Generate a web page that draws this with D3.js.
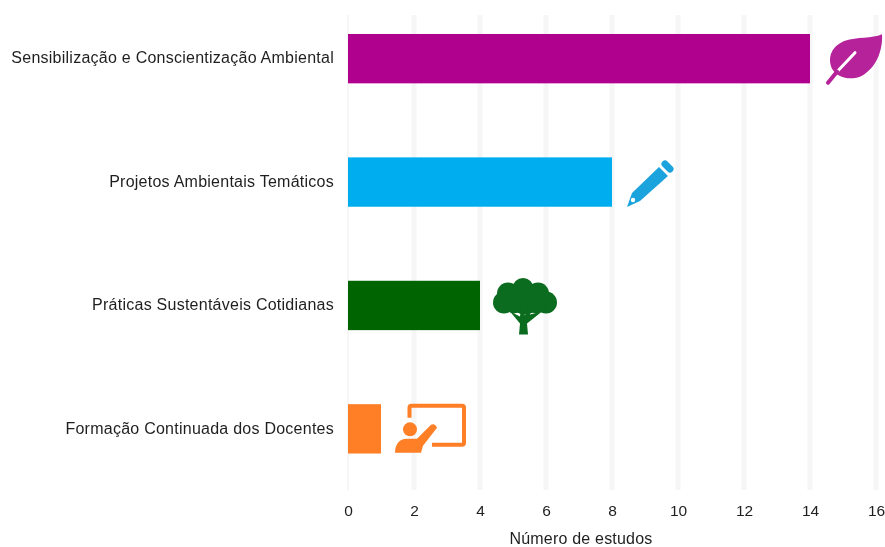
<!DOCTYPE html>
<html>
<head>
<meta charset="utf-8">
<script src="https://cdn.jsdelivr.net/npm/d3@7"></script>
<style>
	html, body { margin: 0; padding: 0; background: #fff; }
	svg { display: block; filter: blur(0.45px); }
	text { font-family: "Liberation Sans", Arial, sans-serif; fill: #1f1f1f; }
</style>
</head>
<body>
<svg width="885" height="547"></svg>
<script>
var categories = [
	"Sensibilização e Conscientização Ambiental",
	"Projetos Ambientais Temáticos",
	"Práticas Sustentáveis Cotidianas",
	"Formação Continuada dos Docentes"
];
var values = [14, 8, 4, 1];
var barColors = ["#b0008e", "#00aeef", "#006400", "#ff7f27"];
var xTicks = [0, 2, 4, 6, 8, 10, 12, 14, 16];
var xLabel = "Número de estudos";

var svg = d3.select("svg");

var xScale = d3.scaleLinear()
	.domain([0, 16])
	.range([348, 876]);

var yScale = d3.scaleBand()
	.domain(categories)
	.range([9.3, 478.2])
	.paddingInner(0.6)
	.paddingOuter(0.2);

// grid
svg.selectAll("line.grid")
	.data(xTicks)
	.enter()
	.append("line")
	.attr("class", "grid")
	.attr("x1", function(d) {return xScale(d);})
	.attr("x2", function(d) {return xScale(d);})
	.attr("y1", 15)
	.attr("y2", 490)
	.attr("stroke", "#f6f6f6")
	.attr("stroke-width", function(d) {return d === 0 ? 2 : 5;});

// bars
svg.selectAll("rect.bar")
	.data(categories)
	.enter()
	.append("rect")
	.attr("class", "bar")
	.attr("x", xScale(0))
	.attr("y", function(d) {return yScale(d);})
	.attr("width", function(d, i) {return xScale(values[i]) - xScale(0);})
	.attr("height", yScale.bandwidth())
	.attr("fill", function(d, i) {return barColors[i];});

// x axis
var xAxis = d3.axisBottom()
	.scale(xScale)
	.tickValues(xTicks)
	.tickSize(0)
	.tickPadding(0);

var xG = svg.append("g")
	.attr("transform", "translate(0,515.5)")
	.call(xAxis);
xG.select(".domain").remove();
xG.selectAll("text").attr("font-size", 15.5).attr("dy", 0).attr("y", 0);

// y axis
var yAxis = d3.axisLeft()
	.scale(yScale)
	.tickSize(0)
	.tickPadding(14);

var yG = svg.append("g")
	.attr("transform", "translate(348,0)")
	.call(yAxis);
yG.select(".domain").remove();
yG.selectAll("text")
	.attr("font-size", 16)
	.attr("letter-spacing", 0.25)
	.attr("dy", "0.3em");

svg.append("text")
	.attr("x", 581)
	.attr("y", 543.5)
	.attr("text-anchor", "middle")
	.attr("font-size", 16)
	.attr("letter-spacing", 0.2)
	.text(xLabel);

// icons, each placed from the end of its bar
function iconGroup(i) {
	return svg.append("g")
		.attr("transform", "translate(" + xScale(values[i]) + "," + (yScale(categories[i]) + yScale.bandwidth() / 2) + ")");
}

// leaf
var leaf = iconGroup(0);
leaf.append("path")
	.attr("d", "M72,-24.5 C62,-20 47,-22 35,-18 C22,-13 17,-2 22,10 C28,20 42,22 52,17 C66,9 73,-8 72,-24.5 Z")
	.attr("fill", "#b5229a");
leaf.append("path")
	.attr("d", "M27,13 L45,-6")
	.attr("stroke", "#fff")
	.attr("stroke-width", 3)
	.attr("stroke-linecap", "round");
leaf.append("path")
	.attr("d", "M18,24 L27,13")
	.attr("stroke", "#b5229a")
	.attr("stroke-width", 4)
	.attr("stroke-linecap", "round");

// pencil
var pencil = iconGroup(1);
pencil.append("path")
	.attr("d", "M15,25 L20,11 L47,-15 L56,-6 L28,19 Z")
	.attr("fill", "#1aa3dc");
pencil.append("path")
	.attr("d", "M53,-18 L58,-13")
	.attr("stroke", "#1aa3dc")
	.attr("stroke-width", 7)
	.attr("stroke-linecap", "round");
pencil.append("circle")
	.attr("cx", 21)
	.attr("cy", 18)
	.attr("r", 2.2)
	.attr("fill", "#fff");

// tree
var tree = iconGroup(2);
var lobes = [[24, -3, 11], [28, -12, 11], [43, -17, 10.5], [58, -12, 11], [66, -3, 11], [45, -7, 16], [34, -1, 9], [56, -1, 9]];
tree.selectAll("circle")
	.data(lobes)
	.enter()
	.append("circle")
	.attr("cx", function(d) {return d[0];})
	.attr("cy", function(d) {return d[1];})
	.attr("r", function(d) {return d[2];})
	.attr("fill", "#0b6b1f");
tree.append("path")
	.attr("d", "M39,29 L48,29 L47,18 L62,6 L50,9 L48,3 L45,10 L41,3 L40,11 L30,6 L40,18 Z")
	.attr("fill", "#0b6b1f");

// teacher and board
var board = iconGroup(3);
board.append("path")
	.attr("d", "M28.5,-11 L28.5,-21 Q28.5,-23 30.5,-23 L81,-23 Q83,-23 83,-21 L83,14 Q83,16 81,16 L51,16")
	.attr("fill", "none")
	.attr("stroke", "#ff7f27")
	.attr("stroke-width", 4);
board.append("circle")
	.attr("cx", 29)
	.attr("cy", 0.5)
	.attr("r", 7)
	.attr("fill", "#ff7f27");
board.append("path")
	.attr("d", "M14,24 C14,16 18,10 26,10 L36,10 L50,-4 Q54,-6 56,-1 L42,17 L40,24 Z")
	.attr("fill", "#ff7f27");
</script>
</body>
</html>
